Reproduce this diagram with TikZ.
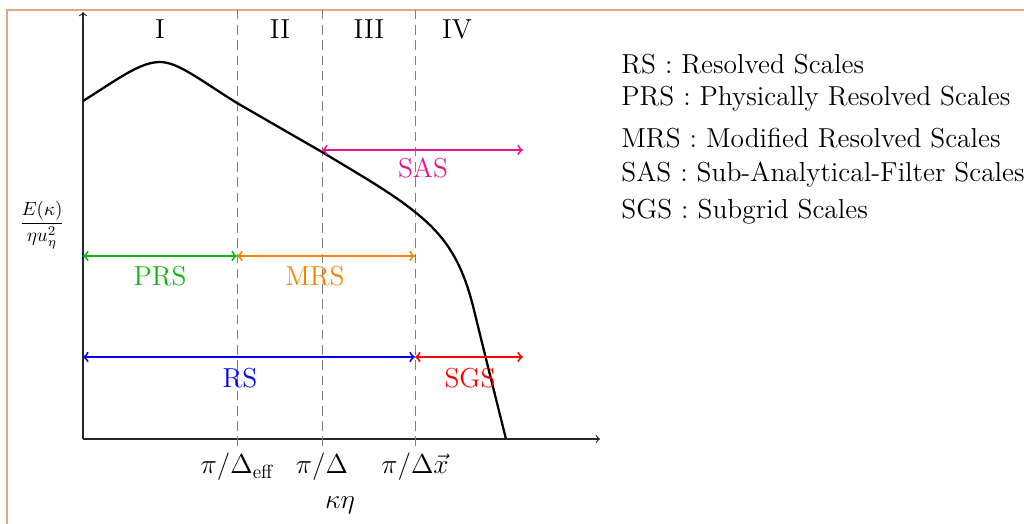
\documentclass[tikz,border=0pt]{standalone}
\usepackage{xcolor}
\usepackage{amsmath}
\usepackage{amssymb}
\usepackage{tikz}
\usetikzlibrary{arrows, positioning}
\definecolor{framebrown}{RGB}{222,172,122}
\definecolor{prsgreen}{RGB}{20,180,20}
\definecolor{mrsorange}{RGB}{255,128,0}
\definecolor{sasmagenta}{RGB}{235,20,140}

\begin{document}
\begin{tikzpicture}[x=0.525pt, y=-0.525pt]
    % Styles
    \tikzstyle{axis} = [->, >=to, black!85, line width=0.6pt]
    \tikzstyle{cutoff} = [gray, dash pattern=on 5pt off 3pt]
    \tikzstyle{scalerange} = [line width=1pt, <->, >=to]
    \tikzstyle{rangelabel} = [font=\Large]
    \tikzstyle{region} = [font=\Large]
    \tikzstyle{ticklabel} = [font=\Large]
    \tikzstyle{legend} = [anchor=west, font=\Large, inner sep=0pt]

    % Page and frame
    \useasboundingbox (0,0) rectangle (1024,523);
    \clip (0,0) rectangle (1024,523);
    \draw [framebrown, thick] (7,10) rectangle (1060,560);

    % Axes
    \coordinate (o) at (83,439);
    \draw [axis] (o) -- (83,12);
    \draw [axis] (o) -- (600,439);

    % Cut-off wavenumbers
    \coordinate (keff) at (237,439);
    \coordinate (kdel) at (322,439);
    \coordinate (kgrid) at (415,439);
    \draw [cutoff] (237,446) -- (237,10);
    \draw [cutoff] (322,446) -- (322,10);
    \draw [cutoff] (415,446) -- (415,10);

    % Regions
    \node [region] (r1) at (160,29) {I};
    \node [region] (r2) at (280,29) {II};
    \node [region] (r3) at (369,29) {III};
    \node [region] (r4) at (457,29) {IV};

    % Spectrum
    \draw [very thick] (83,101) .. controls (118,79) and (140,62) .. (160,62)
        .. controls (178,62) and (200,80) .. (237,103) -- (322,152)
        .. controls (362,176) and (393,194) .. (415,212)
        .. controls (448,238) and (463,265) .. (474,310)
        .. controls (485,355) and (495,395) .. (506,439);

    % Scale ranges
    \draw [scalerange, sasmagenta] (322,150) -- (523,150);
    \node [rangelabel, text=sasmagenta] (sas) at (423,168) {SAS};
    \draw [scalerange, prsgreen] (83,256) -- (237,256);
    \node [rangelabel, text=prsgreen] (prs) at (160,276) {PRS};
    \draw [scalerange, mrsorange] (237,256) -- (415,256);
    \node [rangelabel, text=mrsorange] (mrs) at (315,276) {MRS};
    \draw [scalerange, blue] (83,357) -- (415,357);
    \node [rangelabel, text=blue] (rs) at (240,378) {RS};
    \draw [scalerange, red] (415,357) -- (523,357);
    \node [rangelabel, text=red] (sgs) at (470,378) {SGS};

    % Axis labels
    \node (ylab) at (42,225) {$\dfrac{E(\kappa)}{\eta u_\eta^2}$};
    \node [ticklabel, below=4pt of keff] (teff) {$\pi/\Delta_{\text{eff}}$};
    \node [ticklabel, below=4pt of kdel] (tdel) {$\pi/\Delta$};
    \node [ticklabel, below=4pt of kgrid] (tgrid) {$\pi/\Delta\vec{x}$};
    \node [ticklabel] (xlab) at (340,505) {$\kappa\eta$};

    % Legend
    \node [legend] (l1) at (621,64) {RS : Resolved Scales};
    \node [legend] (l2) at (621,99) {PRS : Physically Resolved Scales};
    \node [legend] (l3) at (621,138) {MRS : Modified Resolved Scales};
    \node [legend] (l4) at (621,174) {SAS : Sub-Analytical-Filter Scales};
    \node [legend] (l5) at (621,212) {SGS : Subgrid Scales};
\end{tikzpicture}
\end{document}
